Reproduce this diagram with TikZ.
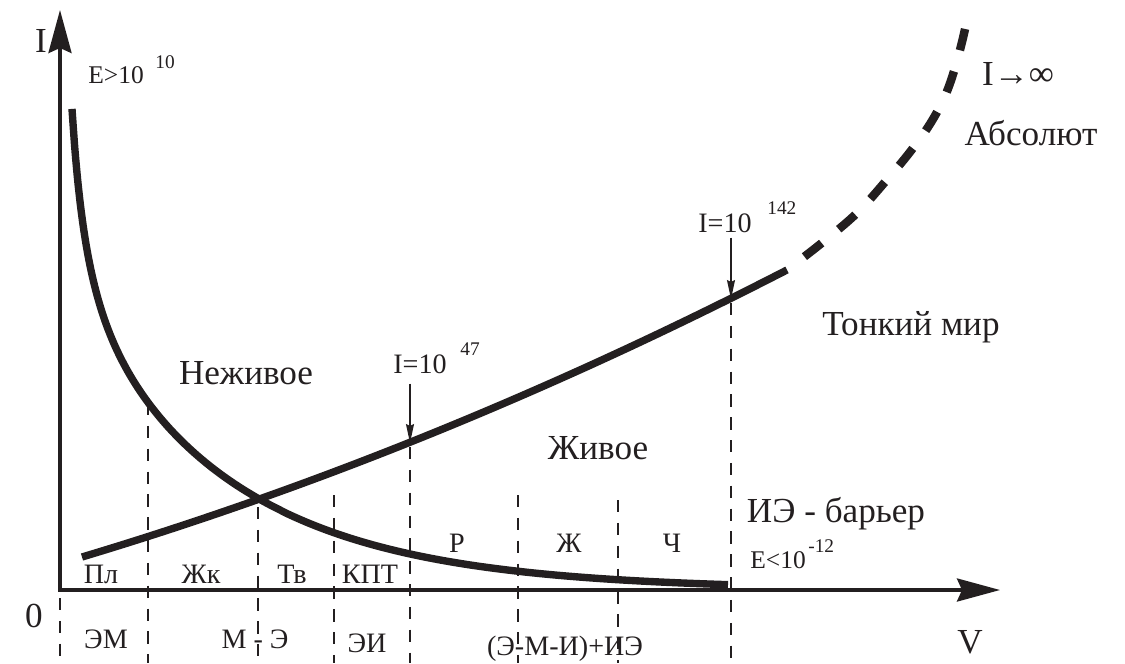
\documentclass[tikz,border=0pt]{standalone}
\usepackage{fontspec}
\setmainfont{Liberation Serif}
\usepackage{xcolor}
\usepackage{tikz}
\usetikzlibrary{arrows.meta,positioning,calc}
\definecolor{cInk}{HTML}{231F20}
\tikzset{
  axis/.style={{Stealth[length=0.86cm,width=0.46cm,inset=0.1cm]}-{Stealth[length=0.86cm,width=0.46cm,inset=0.1cm]},line width=2pt,color=cInk},
  curve/.style={line width=4.2pt,color=cInk},
  farcurve/.style={line width=4.8pt,color=cInk,dash pattern=on 12.5pt off 12.5pt,dash phase=12.5pt},
  guide/.style={line width=0.8pt,color=cInk,dash pattern=on 7pt off 6pt},
  ptr/.style={-{Stealth[length=0.38cm,width=0.16cm,inset=0.04cm]},line width=0.7pt,color=cInk},
  biglbl/.style={font=\fontsize{20}{24}\selectfont,text=cInk,inner sep=0pt,anchor=base},
  midlbl/.style={font=\fontsize{16}{19}\selectfont,text=cInk,inner sep=0pt,anchor=base},
  elbl/.style={font=\fontsize{14.5}{17}\selectfont,text=cInk,inner sep=0pt,anchor=base west},
  suplbl/.style={font=\fontsize{11}{13}\selectfont,text=cInk,inner sep=0pt,anchor=base west},
}
\begin{document}
\begin{tikzpicture}[x=0.02cm,y=-0.02cm]
  \useasboundingbox (0,0) rectangle (1125,663);
  % axes
  \coordinate (yTip) at (60,10);
  \coordinate (orig) at (60,590);
  \coordinate (xTip) at (1000,590);
  \draw[axis] (yTip) -- (orig) -- (xTip);
  \node[biglbl] (yLbl) at (41,52) {I};
  \node[biglbl] (oLbl) at (34,627) {0};
  \node[biglbl] (xLbl) at (970,653) {V};
  % dashed borders
  \foreach \x/\t [count=\i] in {60/598,148/403,258/507,334/495,410/447,518/495,618/500,731/303}
    {\coordinate (gTop\i) at (\x,\t);
     \coordinate (gBot\i) at (\x,663);
     \draw[guide] (gTop\i) -- (gBot\i);}
  % inanimate curve
  \draw[curve] plot[smooth,domain=72:728,samples=240] (\x,{590-208*(30/(\x-42))^2.04-18*exp((518-\x)/164)});
  % living curve
  \draw[curve] plot[smooth,domain=82:787,samples=60] (\x,{557-0.3*(\x-82)-1.52*((\x-82)/100)^2});
  \draw[farcurve] plot[smooth,tension=0.6] coordinates {(787,270) (823,242) (857,213) (885,182) (910,152) (930,124) (945,96) (955,68) (962,42) (967,20)};
  % pointers
  \coordinate (hitA) at (410,443);
  \coordinate (hitB) at (731,299);
  \node[midlbl,anchor=base west] (lblA) at (393,373) {I=10};
  \node[suplbl] (supA) at (460,355) {47};
  \node[midlbl,anchor=base west] (lblB) at (698,232) {I=10};
  \node[suplbl] (supB) at (767,214) {142};
  \draw[ptr] ($(lblA.south -| hitA)+(0,10)$) -- (hitA);
  \draw[ptr] ($(lblB.south -| hitB)+(0,5)$) -- (hitB);
  % energy limits
  \node[elbl] (eTop) at (88,83) {E>10};
  \node[suplbl] (eTopSup) at (155,68) {10};
  \node[elbl] (eBot) at (750,568) {E<10};
  \node[suplbl] (eBotSup) at (808,552) {-12};
  % regions
  \node[biglbl] (dead) at (246,384) {Неживое};
  \node[biglbl] (alive) at (598,459) {Живое};
  \node[biglbl] (subtle) at (911,335) {Тонкий мир};
  \node[biglbl] (barrier) at (836,522) {ИЭ - барьер};
  \node[biglbl] (infty) at (1018,85) {I→∞};
  \node[biglbl] (absol) at (1031,145) {Абсолют};
  \foreach \x/\y/\t [count=\i] in {101/583/Пл,201/583/Жк,292/583/Тв,370/583/КПТ,457/552/Р,569/552/Ж,672/552/Ч}
    \node[midlbl] (state\i) at (\x,\y) {\t};
  \foreach \x/\y/\t [count=\i] in {106/648/ЭМ,255/648/М - Э,367/652/ЭИ,565/655/(Э-М-И)+ИЭ}
    \node[midlbl] (link\i) at (\x,\y) {\t};
\end{tikzpicture}
\end{document}
